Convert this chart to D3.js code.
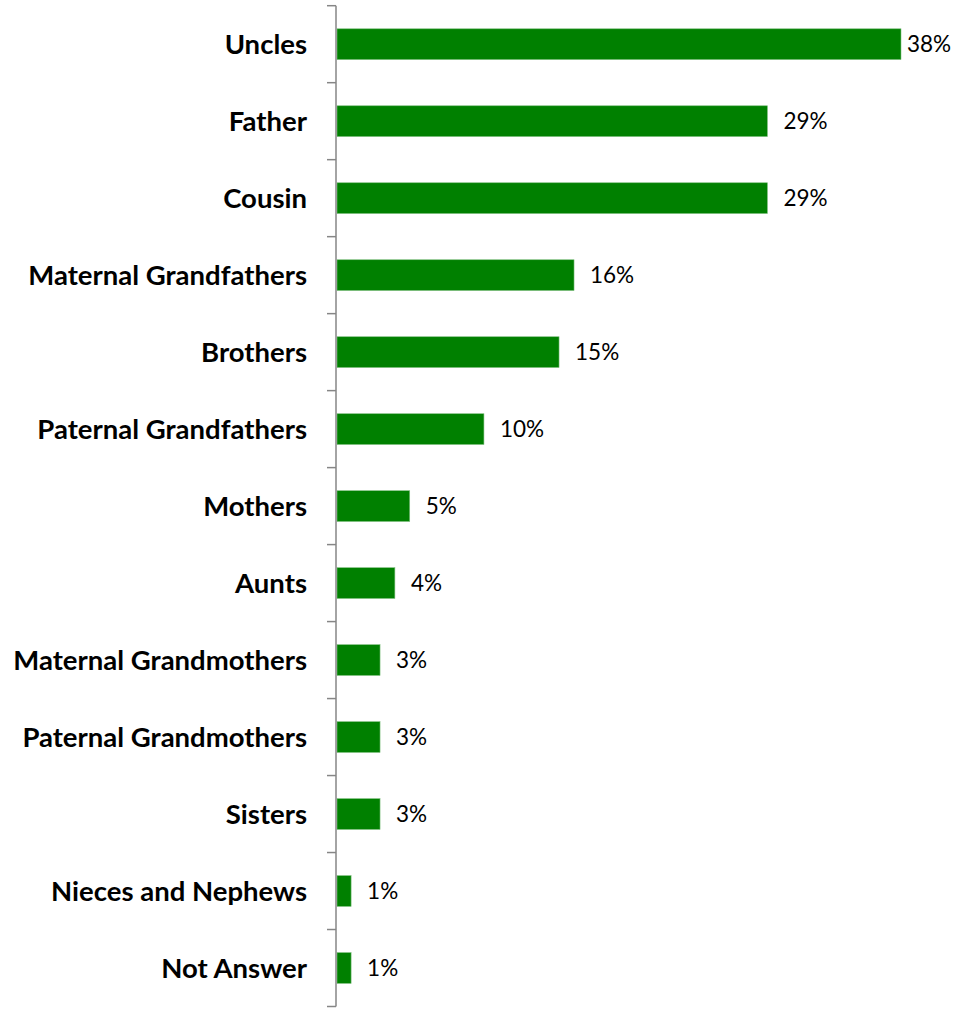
<!DOCTYPE html>
<html>
<head>
<meta charset="utf-8">
<script src="https://cdn.jsdelivr.net/npm/d3@7"></script>
<style>
  body { margin: 0; background: #fff; }
  svg { display: block; }
</style>
</head>
<body>
<svg id="chart" width="961" height="1009"></svg>
<script>
// data
const categories = ["Uncles", "Father", "Cousin", "Maternal Grandfathers", "Brothers",
  "Paternal Grandfathers", "Mothers", "Aunts", "Maternal Grandmothers",
  "Paternal Grandmothers", "Sisters", "Nieces and Nephews", "Not Answer"]
const values = [38, 29, 29, 15.97, 14.96, 9.9, 4.9, 3.9, 2.9, 2.9, 2.9, 0.95, 0.95]
const valueLabels = ["38%", "29%", "29%", "16%", "15%", "10%", "5%", "4%", "3%", "3%", "3%", "1%", "1%"]

const chartW = 961, chartH = 1009
const axisX = 336, plotTop = 5.7, plotBottom = 1006.5

const svg = d3.select("#chart")

const y = d3.scaleBand()
  .domain(categories)
  .range([plotTop, plotBottom])
  .paddingInner(0.6)
  .paddingOuter(0.3)

const x = d3.scaleLinear()
  .domain([0, 38])
  .range([axisX + 1, 901])

// bars
svg.selectAll(".bar")
  .data(categories)
  .enter()
  .append("rect")
  .attr("class", "bar")
  .attr("x", x(0))
  .attr("y", d => y(d))
  .attr("width", (d, i) => x(values[i]) - x(0))
  .attr("height", y.bandwidth())
  .style("fill", "#008000")
  .style("stroke", "#7fbf7f")
  .style("stroke-width", 0.6)

// axis line + ticks at band edges
const step = (plotBottom - plotTop) / categories.length
const tickYs = d3.range(categories.length + 1).map(i => plotTop + i * step)

svg.append("line")
  .attr("x1", axisX).attr("x2", axisX)
  .attr("y1", plotTop).attr("y2", plotBottom)
  .style("stroke", "#868686")
  .style("stroke-width", 1.5)

svg.selectAll(".tick")
  .data(tickYs)
  .enter()
  .append("line")
  .attr("x1", axisX - 9).attr("x2", axisX)
  .attr("y1", d => d).attr("y2", d => d)
  .style("stroke", "#868686")
  .style("stroke-width", 1.5)

// category labels
svg.selectAll(".cat")
  .data(categories)
  .enter()
  .append("text")
  .attr("x", 307)
  .attr("y", d => y(d) + y.bandwidth() / 2)
  .attr("dy", "0.36em")
  .attr("text-anchor", "end")
  .style("font-family", "Lato, 'Open Sans', sans-serif")
  .style("font-weight", "bold")
  .style("font-size", "27.5px")
  .style("fill", "#000")
  .text(d => d)

// value labels
svg.selectAll(".val")
  .data(categories)
  .enter()
  .append("text")
  .attr("x", (d, i) => Math.min(x(values[i]) + 16, 907))
  .attr("y", d => y(d) + y.bandwidth() / 2)
  .attr("dy", "0.36em")
  .style("font-family", "Lato, 'Open Sans', sans-serif")
  .style("font-size", "22.5px")
  .style("fill", "#000")
  .text((d, i) => valueLabels[i])
</script>
</body>
</html>
